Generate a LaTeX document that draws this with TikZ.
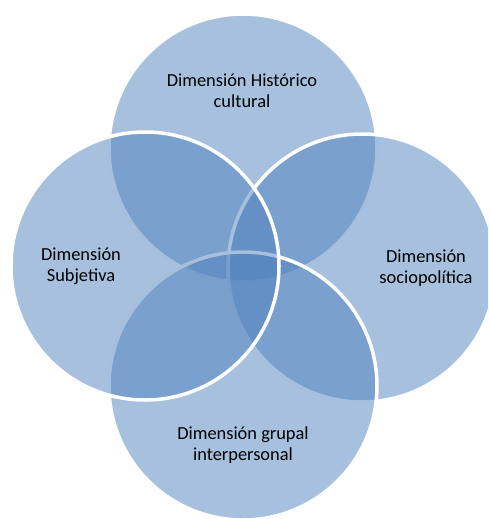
\documentclass[tikz,border=0pt]{standalone}
\usepackage{fontspec}
\setmainfont{Carlito}
\definecolor{vennblue}{HTML}{4F81BD}

\begin{document}
\begin{tikzpicture}[x=1pt, y=-1pt,
		venn/.style={fill=vennblue, fill opacity=0.5, draw=white, line width=3.5pt},
		vlabel/.style={align=center, text=black, font=\fontsize{18.4}{21}\selectfont}]
			%%%%% START %%%%%
			
			\useasboundingbox (0, 0) rectangle (488, 519);
			\clip (0, 0) rectangle (488, 519);
			
			\draw[venn] (243, 148) circle (134pt);
			\draw[venn] (362, 268) circle (134pt);
			\draw[venn] (243, 386) circle (134pt);
			\draw[venn] (145, 266) circle (134pt);
			
			\node[vlabel] (historico) at (242, 91) {Dimensión Histórico\\cultural};
			\node[vlabel] (subjetiva) at (81, 266) {Dimensión\\Subjetiva};
			\node[vlabel] (sociopolitica) at (426, 268) {Dimensión\\sociopolítica};
			\node[vlabel] (grupal) at (243, 445) {Dimensión grupal\\interpersonal};
			
			%%%%% END %%%%%
		\end{tikzpicture}
\end{document}
